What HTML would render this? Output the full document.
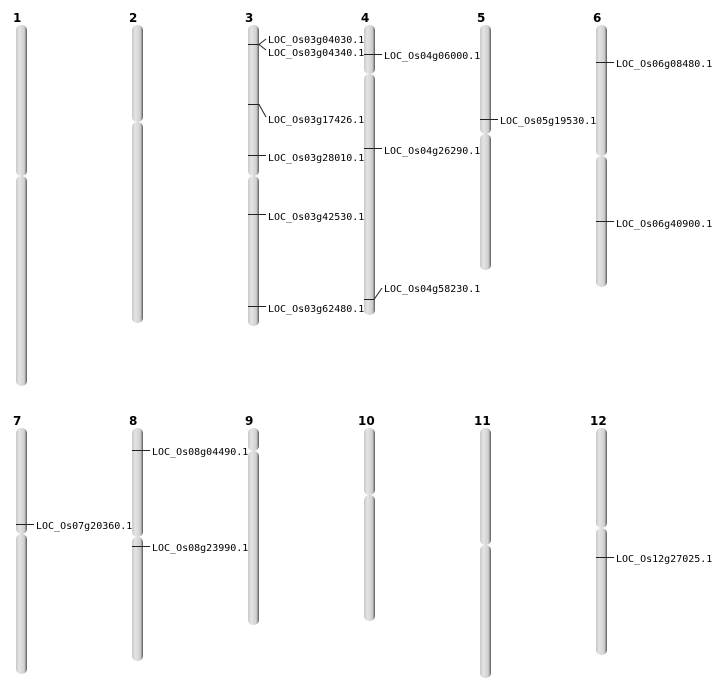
<!DOCTYPE html>
<html><head><meta charset="utf-8"><style>body{margin:0;background:#fff}svg{display:block}</style></head><body>
<svg width="712" height="700" xmlns="http://www.w3.org/2000/svg">
<defs><linearGradient id="g" x1="0" x2="1" y1="0" y2="0">
<stop offset="0" stop-color="#c8c8c8"/><stop offset="0.3" stop-color="#e4e4e4"/><stop offset="0.75" stop-color="#d0d0d0"/><stop offset="0.88" stop-color="#9a9a9a"/><stop offset="1" stop-color="#555"/></linearGradient></defs>
<g font-family="DejaVu Sans, Liberation Sans, sans-serif" font-weight="bold" font-size="12">
<text x="13" y="22">1</text><text x="129" y="22">2</text><text x="245" y="22">3</text><text x="361" y="22">4</text><text x="477" y="22">5</text><text x="593" y="22">6</text>
<text x="13" y="425">7</text><text x="129" y="425">8</text><text x="245" y="425">9</text><text x="358" y="425">10</text><text x="474" y="425">11</text><text x="590" y="425">12</text>
</g>
<g fill="url(#g)">
<rect x="16" y="25" width="11" height="151" rx="5"/><rect x="16" y="176" width="11" height="210" rx="5"/>
<rect x="132" y="25" width="11" height="97" rx="5"/><rect x="132" y="122" width="11" height="201" rx="5"/>
<rect x="248" y="25" width="11" height="151" rx="5"/><rect x="248" y="176" width="11" height="150" rx="5"/>
<rect x="364" y="25" width="11" height="49" rx="5"/><rect x="364" y="74" width="11" height="241" rx="5"/>
<rect x="480" y="25" width="11" height="109" rx="5"/><rect x="480" y="134" width="11" height="136" rx="5"/>
<rect x="596" y="25" width="11" height="131" rx="5"/><rect x="596" y="156" width="11" height="131" rx="5"/>
<rect x="16" y="428" width="11" height="106" rx="5"/><rect x="16" y="534" width="11" height="140" rx="5"/>
<rect x="132" y="428" width="11" height="109" rx="5"/><rect x="132" y="537" width="11" height="124" rx="5"/>
<rect x="248" y="428" width="11" height="23" rx="5"/><rect x="248" y="451" width="11" height="174" rx="5"/>
<rect x="364" y="428" width="11" height="67" rx="5"/><rect x="364" y="495" width="11" height="126" rx="5"/>
<rect x="480" y="428" width="11" height="117" rx="5"/><rect x="480" y="545" width="11" height="133" rx="5"/>
<rect x="596" y="428" width="11" height="100" rx="5"/><rect x="596" y="528" width="11" height="127" rx="5"/>
</g>
<g stroke="#222" stroke-width="1" fill="none">
<path d="M248 44.5H259L266 39M259 44.5L266 50"/>
<path d="M248 104.5H259L266 117"/>
<path d="M248 155.5H266"/><path d="M248 214.5H266"/><path d="M248 306.5H266"/>
<path d="M364 54.5H382"/><path d="M364 148.5H382"/><path d="M364 299.5H374L382 288"/>
<path d="M480 119.5H498"/>
<path d="M596 62.5H614"/><path d="M596 221.5H614"/>
<path d="M16 524.5H34"/>
<path d="M132 450.5H150"/><path d="M132 546.5H150"/>
<path d="M596 557.5H614"/>
</g>
<g font-family="DejaVu Sans Mono, Liberation Mono, monospace" font-size="10" fill="#000">
<text x="268" y="43">LOC_Os03g04030.1</text>
<text x="268" y="56">LOC_Os03g04340.1</text>
<text x="268" y="123">LOC_Os03g17426.1</text>
<text x="268" y="161">LOC_Os03g28010.1</text>
<text x="268" y="220">LOC_Os03g42530.1</text>
<text x="268" y="312">LOC_Os03g62480.1</text>
<text x="384" y="59">LOC_Os04g06000.1</text>
<text x="384" y="154">LOC_Os04g26290.1</text>
<text x="384" y="292">LOC_Os04g58230.1</text>
<text x="500" y="124">LOC_Os05g19530.1</text>
<text x="616" y="67">LOC_Os06g08480.1</text>
<text x="616" y="227">LOC_Os06g40900.1</text>
<text x="36" y="529">LOC_Os07g20360.1</text>
<text x="152" y="455">LOC_Os08g04490.1</text>
<text x="152" y="551">LOC_Os08g23990.1</text>
<text x="616" y="562">LOC_Os12g27025.1</text>
</g>
</svg>
</body></html>
